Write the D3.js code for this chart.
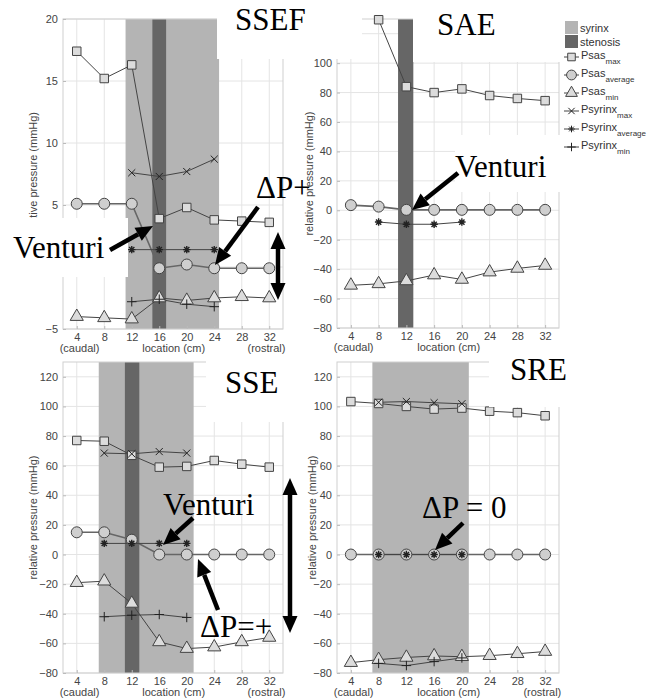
<!DOCTYPE html>
<html>
<head>
<meta charset="utf-8">
<script src="https://cdn.jsdelivr.net/npm/d3@7"></script>
<style>
  body { margin: 0; background: #fff; }
  svg { display: block; }
  .tick text, .lbl { font-family: Arial, "Liberation Sans", sans-serif; }
  .big { font-family: "Liberation Serif", "Times New Roman", serif; font-size: 31px; fill: #000; }
</style>
</head>
<body>
<script>
// ---- data ----
var locations = [4, 8, 12, 16, 20, 24, 28, 32];
var seriesKeys = ["psasMax", "psasAvg", "psasMin", "psyrMax", "psyrAvg", "psyrMin"];
var legendMain = ["Psas", "Psas", "Psas", "Psyrinx", "Psyrinx", "Psyrinx"];
var legendSub = ["max", "average", "min", "max", "average", "min"];
var ticksSSEF = [-5, 0, 5, 10, 15, 20];
var labelsSSEF = [-5, 5, 10, 15, 20];   // the 0 label sits under the "Venturi" box
var ticksWide = [-80, -60, -40, -20, 0, 20, 40, 60, 80, 100, 120];

// SSEF
var ssefPsasMax = [17.4, 15.2, 16.3, 3.9, 4.8, 3.8, 3.7, 3.6];
var ssefPsasAvg = [5.1, 5.1, 5.1, -0.1, 0.2, -0.1, -0.1, -0.1];
var ssefPsasMin = [-4.0, -4.1, -4.2, -2.5, -2.7, -2.5, -2.4, -2.5];
var ssefPsyrMax = [null, null, 7.6, 7.3, 7.7, 8.7, null, null];
var ssefPsyrAvg = [null, null, 1.4, 1.4, 1.4, 1.4, null, null];
var ssefPsyrMin = [null, null, -2.8, -2.6, -3.0, -3.2, null, null];

// SAE
var saePsasMax = [null, 129.5, 84, 80, 82.5, 78, 76, 74.5];
var saePsasAvg = [3.5, 2.5, 0.3, 0.3, 0.3, 0.3, 0.3, 0.3];
var saePsasMin = [-51, -50, -48, -44, -47, -42, -39.5, -37.5];
var saePsyrAvg = [null, -8, -9.5, -9.5, -8, null, null, null];

// SSE
var ssePsasMax = [77, 76.5, 67, 59, 59.5, 63.5, 61, 59];
var ssePsasAvg = [15, 15, 10, 0, 0, 0, 0, 0];
var ssePsasMin = [-19, -18, -33, -59, -63.5, -62.5, -59, -56];
var ssePsyrMax = [null, 68.5, 68, 69.5, 68.5, null, null, null];
var ssePsyrAvg = [null, 7.5, 7.5, 7.5, 7.5, null, null, null];
var ssePsyrMin = [null, -42, -41, -40.5, -42.5, null, null, null];

// SRE
var srePsasMax = [103.3, 102, 100, 98.2, 98.9, 96.8, 95.8, 93.7];
var srePsasAvg = [0, 0, 0, 0, 0, 0, 0, 0];
var srePsasMin = [-73, -71, -69.5, -68.5, -69, -68.3, -67, -65.5];
var srePsyrMax = [null, 102.8, 103.3, 102.5, 101.8, null, null, null];
var srePsyrAvg = [null, 0, 0, 0, 0, null, null, null];
var srePsyrMin = [null, -73.5, -75, -72.3, -69.8, null, null, null];

// syrinx / stenosis extents (cm)
var ssefSyrinx = [11.1, 24.7], ssefStenosis = [15, 17];
var saeStenosis = [10.8, 13];
var sseSyrinx = [7.2, 21], sseStenosis = [11, 13.1];
var sreSyrinx = [7.1, 21];

var width = 662, height = 700;
var syrinxColor = "#b4b4b4", stenosisColor = "#666";

var svg = d3.select("body").append("svg")
            .attr("width", width)
            .attr("height", height);

// marker shapes
var shapes = {
  psasMax: d3.symbolSquare,
  psasAvg: d3.symbolCircle,
  psasMin: d3.symbolTriangle,
  psyrMax: { draw: function(c, s){ var r = Math.sqrt(s) / 2; c.moveTo(-r, -r); c.lineTo(r, r); c.moveTo(r, -r); c.lineTo(-r, r); } },
  psyrAvg: { draw: function(c, s){ var r = Math.sqrt(s) / 2;
             for (var i = 0; i < 4; i++) { var a = i * Math.PI / 4; c.moveTo(-r * Math.cos(a), -r * Math.sin(a)); c.lineTo(r * Math.cos(a), r * Math.sin(a)); } } },
  psyrMin: { draw: function(c, s){ var r = Math.sqrt(s) / 2; c.moveTo(-r, 0); c.lineTo(r, 0); c.moveTo(0, -r); c.lineTo(0, r); } }
};
var sizes = { psasMax: 72, psasAvg: 95, psasMin: 75, psyrMax: 50, psyrAvg: 55, psyrMin: 90 };
var filled = { psasMax: "#dcdcdc", psasAvg: "#cfcfcf", psasMin: "#dcdcdc" };

var panels = [
  { left: 63, right: 283, top: 19, bottom: 329, yDomain: [-5, 20], yTicks: ticksSSEF, yLabels: labelsSSEF,
    syrinx: ssefSyrinx, stenosis: ssefStenosis,
    data: { psasMax: ssefPsasMax, psasAvg: ssefPsasAvg, psasMin: ssefPsasMin,
            psyrMax: ssefPsyrMax, psyrAvg: ssefPsyrAvg, psyrMin: ssefPsyrMin },
    labelX: 37, rostral: true },
  { left: 337, right: 559, top: 19, bottom: 328, yDomain: [-80, 130], yTicks: ticksWide, yLabels: ticksWide,
    syrinx: null, stenosis: saeStenosis,
    data: { psasMax: saePsasMax, psasAvg: saePsasAvg, psasMin: saePsasMin, psyrAvg: saePsyrAvg },
    labelX: 313, rostral: false },
  { left: 63, right: 283, top: 362, bottom: 673, yDomain: [-80, 130], yTicks: ticksWide, yLabels: ticksWide,
    syrinx: sseSyrinx, stenosis: sseStenosis,
    data: { psasMax: ssePsasMax, psasAvg: ssePsasAvg, psasMin: ssePsasMin,
            psyrMax: ssePsyrMax, psyrAvg: ssePsyrAvg, psyrMin: ssePsyrMin },
    labelX: 37, rostral: true },
  { left: 337, right: 559, top: 362, bottom: 673, yDomain: [-80, 130], yTicks: ticksWide, yLabels: ticksWide,
    syrinx: sreSyrinx, stenosis: null,
    data: { psasMax: srePsasMax, psasAvg: srePsasAvg, psasMin: srePsasMin,
            psyrMax: srePsyrMax, psyrAvg: srePsyrAvg, psyrMin: srePsyrMin },
    labelX: 316, rostral: true }
];

panels.forEach(function(p){
  var x = d3.scaleLinear().domain([2, 34]).range([p.left, p.right]);
  var y = d3.scaleLinear().domain(p.yDomain).range([p.bottom, p.top]);
  var g = svg.append("g");

  // grid
  g.selectAll(".vg").data(locations).enter().append("line")
   .attr("x1", function(d){ return x(d); }).attr("x2", function(d){ return x(d); })
   .attr("y1", p.top).attr("y2", p.bottom)
   .attr("stroke", "#e4e4e4");
  g.selectAll(".hg").data(p.yTicks).enter().append("line")
   .attr("x1", p.left).attr("x2", p.right)
   .attr("y1", function(d){ return y(d); }).attr("y2", function(d){ return y(d); })
   .attr("stroke", "#e4e4e4");

  // syrinx / stenosis bands
  if (p.syrinx) g.append("rect")
   .attr("x", x(p.syrinx[0])).attr("width", x(p.syrinx[1]) - x(p.syrinx[0]))
   .attr("y", p.top).attr("height", p.bottom - p.top).attr("fill", syrinxColor);
  if (p.stenosis) g.append("rect")
   .attr("x", x(p.stenosis[0])).attr("width", x(p.stenosis[1]) - x(p.stenosis[0]))
   .attr("y", p.top).attr("height", p.bottom - p.top).attr("fill", stenosisColor);

  // frame
  g.append("rect").attr("x", p.left).attr("y", p.top)
   .attr("width", p.right - p.left).attr("height", p.bottom - p.top)
   .attr("fill", "none").attr("stroke", "#cfcfcf");

  // axes
  var ya = g.append("g").attr("transform", "translate(" + p.left + ",0)")
            .call(d3.axisLeft(y).tickValues(p.yLabels).tickSize(-3).tickPadding(5));
  var xa = g.append("g").attr("transform", "translate(0," + p.bottom + ")")
            .call(d3.axisBottom(x).tickValues(locations).tickSize(-3).tickPadding(4));
  [ya, xa].forEach(function(a){
    a.select(".domain").remove();
    a.selectAll(".tick line").attr("stroke", "#bbb");
    a.selectAll(".tick text").attr("fill", "#444").style("font-size", "11px");
  });

  // second x label row
  var row = [[4.4, "(caudal)"], [18.1, "location (cm)"]];
  if (p.rostral) row.push([31.6, "(rostral)"]);
  g.selectAll(".xl").data(row).enter().append("text").attr("class", "lbl")
   .attr("x", function(d){ return x(d[0]); }).attr("y", p.bottom + 23)
   .attr("text-anchor", "middle").attr("fill", "#444").style("font-size", "11px")
   .text(function(d){ return d[1]; });

  // y label
  g.append("text").attr("class", "lbl")
   .attr("transform", "translate(" + p.labelX + "," + ((p.top + p.bottom) / 2) + ") rotate(-90)")
   .attr("text-anchor", "middle").attr("fill", "#444").style("font-size", "11px")
   .text("relative pressure (mmHg)");

  // series
  var line = d3.line()
    .defined(function(d){ return d != null; })
    .x(function(d, i){ return x(locations[i]); })
    .y(function(d){ return y(d); });
  seriesKeys.forEach(function(k){
    var vals = p.data[k];
    if (!vals) return;
    g.append("path").datum(vals)
     .attr("d", line).attr("fill", "none")
     .attr("stroke", k === "psasAvg" ? "#666" : "#444")
     .attr("stroke-width", k === "psasAvg" ? 1.6 : 1);
  });
  seriesKeys.forEach(function(k){
    var vals = p.data[k];
    if (!vals) return;
    var pts = vals.map(function(v, i){ return [locations[i], v]; })
                  .filter(function(d){ return d[1] != null; });
    g.selectAll(".m-" + k).data(pts).enter().append("path")
     .attr("transform", function(d){ return "translate(" + x(d[0]) + "," + y(d[1]) + ")"; })
     .attr("d", d3.symbol().type(shapes[k]).size(sizes[k]))
     .attr("fill", filled[k] || "none")
     .attr("stroke", filled[k] ? "#444" : "#222")
     .attr("stroke-width", k === "psyrAvg" ? 1.4 : 1);
  });
});

// ---- white label boxes laid over the panels ----
var boxes = [
  [217, 0, 145, 59], [413, 0, 249, 62], [0, 218, 128, 59],
  [455, 135, 207, 57], [206, 355, 94, 67], [489, 343, 173, 64]
];
svg.selectAll(".box").data(boxes).enter().append("rect")
   .attr("x", function(d){ return d[0]; }).attr("y", function(d){ return d[1]; })
   .attr("width", function(d){ return d[2]; }).attr("height", function(d){ return d[3]; })
   .attr("fill", "#fff");

// legend
var lg = svg.append("g");
lg.append("rect").attr("x", 565).attr("y", 21).attr("width", 13).attr("height", 13).attr("fill", syrinxColor);
lg.append("rect").attr("x", 565).attr("y", 35).attr("width", 13).attr("height", 13).attr("fill", stenosisColor);
lg.append("text").attr("class", "lbl").attr("x", 580).attr("y", 32).attr("fill", "#333").style("font-size", "11px").text("syrinx");
lg.append("text").attr("class", "lbl").attr("x", 580).attr("y", 46).attr("fill", "#333").style("font-size", "11px").text("stenosis");
seriesKeys.forEach(function(k, i){
  var yy = 57 + i * 18;
  lg.append("line").attr("x1", 564).attr("x2", 579).attr("y1", yy).attr("y2", yy).attr("stroke", "#444");
  lg.append("path").attr("transform", "translate(571.5," + yy + ")")
    .attr("d", d3.symbol().type(shapes[k]).size(sizes[k] * 0.8))
    .attr("fill", filled[k] || "none").attr("stroke", filled[k] ? "#444" : "#222");
  var t = lg.append("text").attr("class", "lbl").attr("x", 581).attr("y", yy + 2)
            .attr("fill", "#333").style("font-size", "11px");
  t.append("tspan").text(legendMain[i]);
  t.append("tspan").attr("dy", 5).style("font-size", "8px").text(legendSub[i]);
});

// ---- annotations ----
var words = [
  ["SSEF", 235, 30], ["SAE", 437, 35], ["SSE", 225, 393], ["SRE", 510, 380],
  ["Venturi", 13, 258], ["Venturi", 455, 177], ["Venturi", 163, 515],
  ["\u0394P+", 256, 198], ["\u0394P=+", 200, 637], ["\u0394P = 0", 422, 518]
];
svg.selectAll(".word").data(words).enter().append("text").attr("class", "big")
   .attr("x", function(d){ return d[1]; }).attr("y", function(d){ return d[2]; })
   .text(function(d){ return d[0]; });

function arrowHead(x1, y1, x2, y2){
  var a = Math.atan2(y2 - y1, x2 - x1), L = 17, W = 7.5;
  var bx = x2 - L * Math.cos(a), by = y2 - L * Math.sin(a);
  svg.append("path")
     .attr("d", "M" + x2 + "," + y2 + "L" + (bx + W * Math.sin(a)) + "," + (by - W * Math.cos(a)) +
                "L" + (bx - W * Math.sin(a)) + "," + (by + W * Math.cos(a)) + "Z")
     .attr("fill", "#000");
  return [bx, by];
}
var arrows = [
  [110, 250, 153, 226, false], [258, 207, 215, 265, false], [278, 232, 278, 300, true],
  [458, 173, 412, 210, false], [193, 518, 163, 545, false], [218, 610, 198, 559, false],
  [290, 478, 290, 633, true], [463, 523, 435, 550, false]
];
arrows.forEach(function(a){
  var e = arrowHead(a[0], a[1], a[2], a[3]);
  var s = [a[0], a[1]];
  if (a[4]) s = arrowHead(a[2], a[3], a[0], a[1]);
  svg.append("line").attr("x1", s[0]).attr("y1", s[1]).attr("x2", e[0]).attr("y2", e[1])
     .attr("stroke", "#000").attr("stroke-width", 4.5);
});
</script>
</body>
</html>
